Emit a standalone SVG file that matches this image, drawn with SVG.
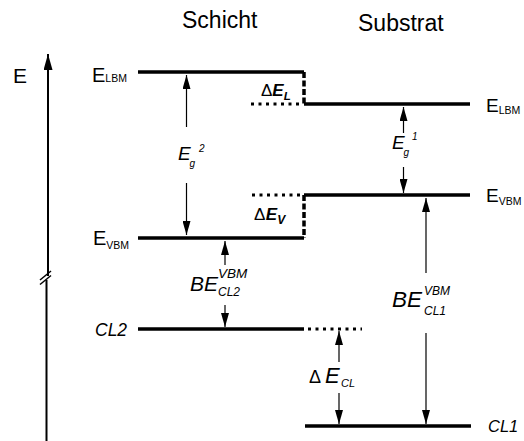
<svg xmlns="http://www.w3.org/2000/svg" width="524" height="441" viewBox="0 0 524 441">
<style>
text{font-family:"Liberation Sans",Arial,sans-serif;fill:#000}
.it{font-style:italic}
.lvl{stroke:#000;stroke-width:3.5;fill:none}
.dash{stroke:#000;stroke-width:3.5;stroke-dasharray:6 2.5;fill:none}
.dot{stroke:#000;stroke-width:3;stroke-dasharray:3 4.5;fill:none}
.arr{stroke:#000;stroke-width:1.2;fill:none;marker-end:url(#ah)}
</style>
<defs>
<marker id="ah" viewBox="0 0 14 8" markerWidth="14" markerHeight="8" refX="14" refY="4" markerUnits="userSpaceOnUse" orient="auto">
<path d="M0,0 L14,4 L0,8 z" fill="#000"/>
</marker>
<marker id="ahBig" viewBox="0 0 16 9" markerWidth="16" markerHeight="9" refX="16" refY="4.5" markerUnits="userSpaceOnUse" orient="auto">
<path d="M0,0 L16,4.5 L0,9 z" fill="#000"/>
</marker>
</defs>
<g id="headers">
<text x="182" y="28" font-size="23">Schicht</text>
<text x="358" y="31" font-size="23">Substrat</text>
</g>
<g id="axis">
<text x="13" y="83" font-size="21">E</text>
<line x1="48" y1="276" x2="48" y2="54" stroke="#000" stroke-width="2" marker-end="url(#ahBig)"/>
<line x1="46.5" y1="280" x2="46.5" y2="441" stroke="#000" stroke-width="2"/>
<line x1="40" y1="280" x2="51" y2="271" stroke="#000" stroke-width="1.5"/>
<line x1="40" y1="284.5" x2="51" y2="275.5" stroke="#000" stroke-width="1.5"/>
</g>
<g id="schicht-lbm">
<line class="lvl" x1="138" y1="72" x2="304" y2="72"/>
<text x="92" y="82" font-size="20">E<tspan font-size="10.5">LBM</tspan></text>
</g>
<g id="schicht-vbm">
<line class="lvl" x1="138" y1="238" x2="304" y2="238"/>
<text x="93" y="245" font-size="20">E<tspan font-size="10.5" dy="3.5">VBM</tspan></text>
</g>
<g id="cl2">
<line class="lvl" x1="138" y1="329" x2="304" y2="329"/>
<text class="it" x="95" y="336" font-size="17.5">CL2</text>
</g>
<g id="substrat-lbm">
<line class="lvl" x1="304" y1="104" x2="470" y2="104"/>
<text x="486" y="112" font-size="19">E<tspan font-size="10.5" dy="1.5">LBM</tspan></text>
</g>
<g id="substrat-vbm">
<line class="lvl" x1="304" y1="195" x2="470" y2="195"/>
<text x="486" y="202" font-size="19">E<tspan font-size="10.5" dy="3">VBM</tspan></text>
</g>
<g id="cl1">
<line class="lvl" x1="305" y1="426" x2="471" y2="426"/>
<text class="it" x="488" y="432" font-size="16.5">CL1</text>
</g>
<g id="offsets">
<line class="dash" x1="304" y1="72" x2="304" y2="104"/>
<line class="dot" x1="251" y1="104" x2="302" y2="104"/>
<line class="dash" x1="304" y1="195" x2="304" y2="238"/>
<line class="dot" x1="252" y1="195" x2="302" y2="195"/>
<line class="dot" x1="308" y1="329" x2="362" y2="329"/>
</g>
<g id="connectors">
<line class="arr" x1="186.5" y1="127" x2="186.5" y2="75"/>
<line class="arr" x1="186.5" y1="183" x2="186.5" y2="235"/>
<line class="arr" x1="403.5" y1="133" x2="403.5" y2="107"/>
<line class="arr" x1="403.5" y1="167" x2="403.5" y2="193"/>
<line class="arr" x1="225" y1="265" x2="225" y2="241"/>
<line class="arr" x1="225" y1="305" x2="225" y2="327"/>
<line class="arr" x1="339" y1="362" x2="339" y2="331"/>
<line class="arr" x1="339" y1="393" x2="339" y2="424"/>
<line class="arr" x1="426" y1="273" x2="426" y2="198"/>
<line class="arr" x1="426" y1="333" x2="426" y2="424"/>
</g>
<g id="labels">
<text x="178" y="160" font-size="19" class="it">E</text>
<text x="189.5" y="167" font-size="10" class="it">g</text>
<text x="199" y="151.5" font-size="10" class="it">2</text>
<text x="392" y="149" font-size="19" class="it">E</text>
<text x="403.5" y="156" font-size="10" class="it">g</text>
<text x="412" y="140" font-size="10" class="it">1</text>
<text x="261" y="96" font-size="17">Δ<tspan font-weight="bold" font-style="italic">E</tspan><tspan font-weight="bold" font-style="italic" font-size="11.5" dy="4">L</tspan></text>
<text x="254" y="219.5" font-size="17">Δ<tspan font-weight="bold" font-style="italic" dx="0.5">E</tspan><tspan font-weight="bold" font-style="italic" font-size="12" dy="4">V</tspan></text>
<text class="it" x="190" y="290.5" font-size="21">BE</text>
<text class="it" x="218" y="278" font-size="13.5">VBM</text>
<text class="it" x="218" y="296" font-size="12">CL2</text>
<text class="it" x="392" y="306.5" font-size="22.5">BE</text>
<text class="it" x="424" y="295" font-size="12">VBM</text>
<text class="it" x="424" y="315" font-size="12">CL1</text>
<text x="309" y="383" font-size="18">Δ</text>
<text class="it" x="325" y="383" font-size="22">E</text>
<text class="it" x="341" y="387" font-size="11">CL</text>
</g>
</svg>
